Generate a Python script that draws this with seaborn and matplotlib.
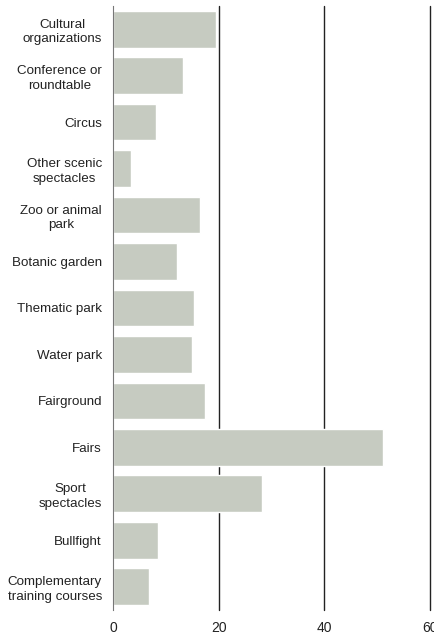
import matplotlib
matplotlib.use("Agg")
import pandas as pd
import matplotlib.pyplot as plt
import seaborn as sns

categories = [
    "Cultural\norganizations",
    "Conference or\nroundtable",
    "Circus",
    "Other scenic\nspectacles",
    "Zoo or animal\npark",
    "Botanic garden",
    "Thematic park",
    "Water park",
    "Fairground",
    "Fairs",
    "Sport\nspectacles",
    "Bullfight",
    "Complementary\ntraining courses",
]
values = [19.5, 13.2, 8.1, 3.4, 16.5, 12.1, 15.3, 15.0, 17.5, 51.1, 28.2, 8.5, 6.8]
x_ticks = [0, 20, 40, 60]

df = pd.DataFrame({"category": categories, "value": values})

sns.set_style("white")
plt.rcParams["font.family"] = ["Liberation Sans", "DejaVu Sans"]

fig = plt.figure(figsize=(4.35, 6.36), dpi=100)
ax = fig.add_axes([0.2598, 0.041, 0.7287, 0.9496])

sns.barplot(data=df, y="category", x="value", color="#c6cbc1",
            saturation=1, width=0.79, ax=ax)

ax.set_xlim(0, 60)
ax.set_ylim(len(categories) - 0.5, -0.5)
ax.set_xticks(x_ticks)
ax.set_xlabel("")
ax.set_ylabel("")

for x in x_ticks[1:]:
    ax.axvline(x, color="#222222", lw=1.0, zorder=0, clip_on=False)

for side in ["top", "right", "bottom"]:
    ax.spines[side].set_visible(False)
ax.spines["left"].set_color("#777777")
ax.spines["left"].set_linewidth(0.8)

ax.tick_params(axis="both", length=0, colors="#222222")
ax.tick_params(axis="y", pad=8, labelsize=9.6)
ax.tick_params(axis="x", pad=8, labelsize=10)
for lbl in ax.get_yticklabels():
    lbl.set_multialignment("center")
    lbl.set_linespacing(1.3)

fig.savefig("out.png", dpi=100)
